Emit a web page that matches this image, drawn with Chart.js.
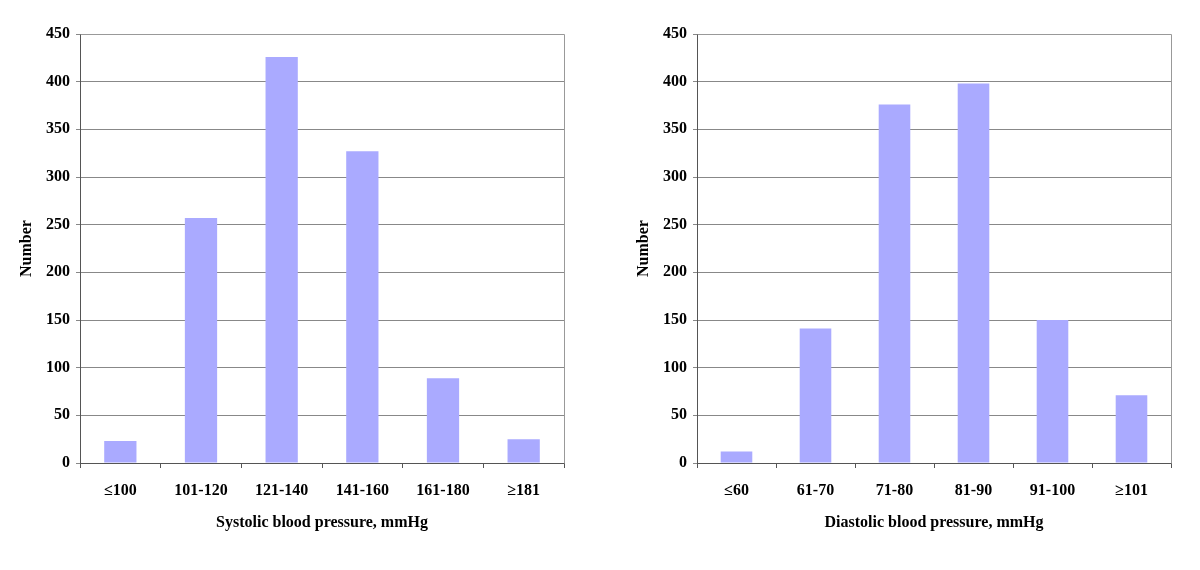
<!DOCTYPE html>
<html>
<head>
<meta charset="utf-8">
<script src="https://cdn.jsdelivr.net/npm/chart.js@4.4.1/dist/chart.umd.min.js"></script>
<style>
  body { margin: 0; background: #fff; }
  .box { position: absolute; top: 0; width: 600px; height: 570px; }
</style>
</head>
<body>
<div class="box" style="left:0"><canvas id="sysChart" width="600" height="570"></canvas></div>
<div class="box" style="left:600px"><canvas id="diaChart" width="600" height="570"></canvas></div>
<script>
  // Data
  const sysLabels = ['≤100', '101-120', '121-140', '141-160', '161-180', '≥181'];
  const sysCounts = [23, 257, 426, 327, 89, 25];
  const diaLabels = ['≤60', '61-70', '71-80', '81-90', '91-100', '≥101'];
  const diaCounts = [12, 141, 376, 398, 150, 71];
  const yTicks = [0, 50, 100, 150, 200, 250, 300, 350, 400, 450];

  const serif = { family: "'Liberation Serif', 'Times New Roman', serif", size: 16, weight: 'bold' };

  // grey frame on top and right of the plot area
  const framePlugin = {
    id: 'frame',
    afterDraw(chart) {
      const a = chart.chartArea;
      const c = chart.ctx;
      c.save();
      c.strokeStyle = '#999';
      c.lineWidth = 1;
      c.beginPath();
      c.moveTo(Math.round(a.left) + 0.5, Math.round(a.top) + 0.5);
      c.lineTo(Math.round(a.right) + 0.5, Math.round(a.top) + 0.5);
      c.lineTo(Math.round(a.right) + 0.5, Math.round(a.bottom) + 0.5);
      c.stroke();
      c.restore();
    }
  };

  function makeChart(id, labels, counts, xTitle, yWidth, yTitlePad, padRight) {
    const ctx = document.getElementById(id).getContext('2d');
    return new Chart(ctx, {
      type: 'bar',
      data: {
        labels: labels,
        datasets: [{
          data: counts,
          backgroundColor: '#AAAAFF',
          borderWidth: 0,
          categoryPercentage: 0.8,
          barPercentage: 0.5
        }]
      },
      options: {
        responsive: false,
        animation: false,
        devicePixelRatio: 1,
        layout: { padding: { top: 34, right: padRight, bottom: 0, left: 0 } },
        plugins: { legend: { display: false }, tooltip: { enabled: false } },
        scales: {
          x: {
            offset: true,
            grid: { offset: true, drawOnChartArea: false, color: '#555', tickLength: 5 },
            border: { color: '#555' },
            ticks: { color: '#000', font: serif, padding: 13, maxRotation: 0 },
            title: { display: true, text: xTitle, color: '#000', font: serif, padding: { top: 0, bottom: 38 } },
            afterFit(scale) { scale.height = 107; }
          },
          y: {
            min: 0,
            max: 450,
            afterBuildTicks(scale) { scale.ticks = yTicks.map(v => ({ value: v })); },
            grid: { color: '#888', tickLength: 4 },
            border: { color: '#555' },
            ticks: { color: '#000', font: serif, padding: 6 },
            title: { display: true, text: 'Number', color: '#000', font: serif, padding: { top: yTitlePad, bottom: 0 } },
            afterFit(scale) { scale.width = yWidth; }
          }
        }
      },
      plugins: [framePlugin]
    });
  }

  makeChart('sysChart', sysLabels, sysCounts, 'Systolic blood pressure, mmHg', 80, 17, 36);
  makeChart('diaChart', diaLabels, diaCounts, 'Diastolic blood pressure, mmHg', 97, 34, 29);
</script>
</body>
</html>
